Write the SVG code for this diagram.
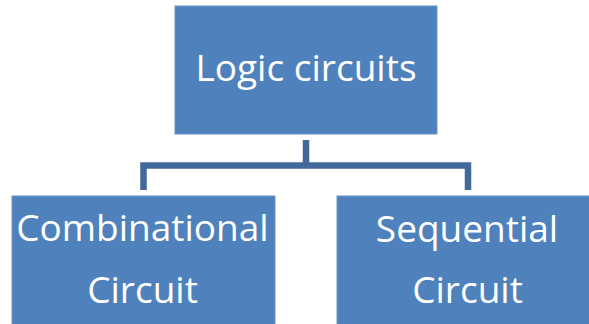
<svg xmlns="http://www.w3.org/2000/svg" width="589" height="324" viewBox="0 0 589 324">
  <style>
    .box { fill: #4F81BD; stroke: #6A94C8; stroke-width: 1; }
    .label { fill: #FFFFFF; font-family: "Open Sans", "Liberation Sans", sans-serif; font-size: 37px; text-anchor: middle; }
    .wire { fill: none; stroke: #41699A; stroke-width: 6.5; stroke-linejoin: miter; stroke-linecap: butt; }
  </style>
  <rect width="589" height="324" fill="#FFFFFF"/>

  <!-- tree connectors -->
  <g id="connectors">
    <path class="wire" d="M306 140 V165.5"/>
    <path class="wire" d="M143.5 190 V165.5 H468 V190"/>
  </g>

  <g id="node-logic">
    <rect class="box" x="175" y="6" width="262" height="128"/>
    <text class="label" x="306" y="81">Logic circuits</text>
  </g>

  <g id="node-combinational">
    <rect class="box" x="12" y="196" width="263" height="140"/>
    <text class="label" x="142.5" y="241">Combinational</text>
    <text class="label" x="142.5" y="303">Circuit</text>
  </g>

  <g id="node-sequential">
    <rect class="box" x="337" y="196" width="263" height="140"/>
    <text class="label" x="467" y="242">Sequential</text>
    <text class="label" x="467.5" y="303">Circuit</text>
  </g>
</svg>
